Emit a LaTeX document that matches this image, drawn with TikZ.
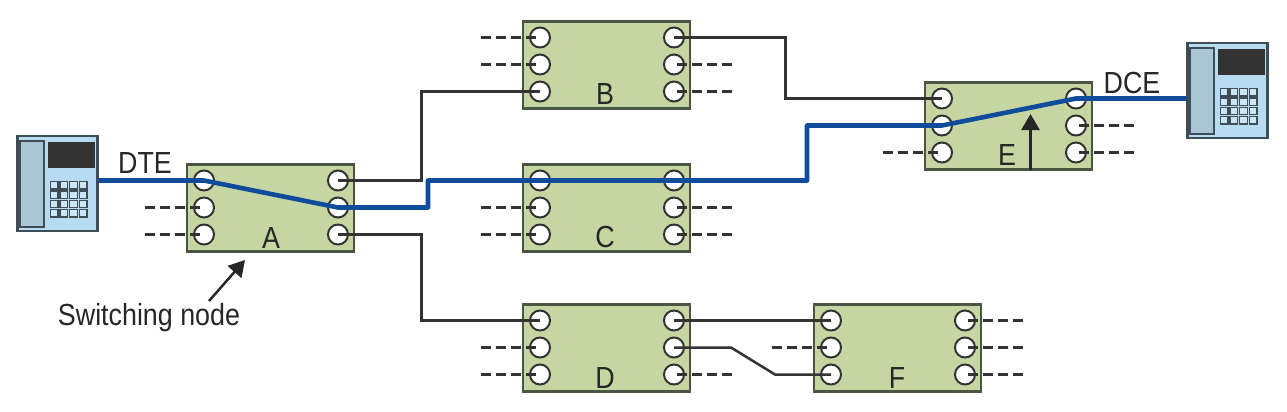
\documentclass[tikz,border=0pt]{standalone}
\usepackage{fontspec}
\usetikzlibrary{arrows.meta}
\newfontfamily\lab[FakeStretch=0.88]{Liberation Sans}
\definecolor{boxgreen}{HTML}{C6D6A2}
\definecolor{boxedge}{HTML}{4A5644}
\definecolor{linkblue}{HTML}{0F4C9C}
\definecolor{linkdark}{HTML}{333333}
\definecolor{phoneblue}{HTML}{B7DCF2}
\definecolor{phonegrey}{HTML}{A9C5D6}
\definecolor{phoneedge}{HTML}{3F4E56}
\definecolor{phonescreen}{HTML}{333333}
\tikzset{
  x=1pt,y=-1pt,
  switchbox/.style={draw=boxedge,line width=2.3pt,fill=boxgreen,minimum width=167pt,minimum height=87pt,inner sep=0pt},
  portdot/.style={circle,draw=linkdark,line width=2pt,fill=white,minimum size=20pt,inner sep=0pt},
  thinlink/.style={draw=linkdark,line width=2.5pt},
  bluelink/.style={draw=linkblue,line width=4.6pt,line join=round},
  stub/.style={draw=linkdark,line width=2.5pt,dash pattern=on 10pt off 5pt},
  biglabel/.style={inner sep=0pt,text=black!85,font=\lab\fontsize{30.5}{32}\selectfont},
  phonebody/.style={draw=phoneedge,line width=2.2pt,fill=phoneblue,minimum width=80pt,minimum height=95pt,inner sep=0pt},
  phonehandset/.style={draw=phoneedge,line width=1.4pt,fill=phonegrey},
  phonekey/.style={draw=phoneedge,line width=1.5pt,fill=phoneblue!70!white},
  pointer/.style={draw=black!85,line width=2.5pt,-{Triangle[length=16pt,width=18pt]}}
}
% #1 name, #2 box left, #3 box top (ports follow at fixed offsets)
\newcommand{\switchnode}[3]{%
  \node[switchbox] (#1) at (#2+83.5,#3+44) {};
  \foreach \row/\dy in {1/16.5,2/43.5,3/70.5}{
    \node[portdot] (#1-l\row) at (#2+17,#3+\dy) {};
    \node[portdot] (#1-r\row) at (#2+151,#3+\dy) {};
  }
}
% #1 name, #2 left, #3 top
\newcommand{\phoneset}[3]{%
  \node[phonebody] (#1) at (#2+40.5,#3+47.5) {};
  \draw[phonehandset] (#2+3,#3+5) rectangle (#2+27,#3+91);
  \fill[phonescreen] (#2+31,#3+6) rectangle (#2+78,#3+32);
  \foreach \i in {0,...,3}\foreach \j in {0,...,3}{
    \draw[phonekey] (#2+33.5+\i*9.6,#3+45.5+\j*9.4) rectangle ++(7.6,7.4);
  }
}
\begin{document}
\begin{tikzpicture}
\useasboundingbox (0,0) rectangle (1287,412);
\switchnode{A}{187}{164}
\switchnode{B}{523}{21}
\switchnode{C}{523}{164}
\switchnode{D}{523}{304}
\switchnode{E}{925}{82}
\switchnode{F}{814}{304}
\phoneset{phoneL}{17}{136}
\phoneset{phoneR}{1187}{43}
% bend points
\coordinate (ab1) at (421.5,0 |- A-r1.center);
\coordinate (ab2) at (421.5,0 |- B-l3.center);
\coordinate (ad1) at (421.5,0 |- A-r3.center);
\coordinate (ad2) at (421.5,0 |- D-l1.center);
\coordinate (be1) at (785.5,0 |- B-r1.center);
\coordinate (be2) at (785.5,0 |- E-l1.center);
\coordinate (df1) at (731,0 |- D-r2.center);
\coordinate (df2) at (775,0 |- F-l3.center);
\coordinate (ac1) at (428,0 |- A-r2.center);
\coordinate (ac2) at (428,0 |- C-l1.center);
\coordinate (ce1) at (807,0 |- C-r1.center);
\coordinate (ce2) at (807,0 |- E-l2.center);
% dashed stubs, each drawn from its free end to its port
\foreach \n/\x in {A/145,C/481,D/481}{
  \draw[stub] (\x,0 |- \n-l2.center) -- (\n-l2.center);
  \draw[stub] (\x,0 |- \n-l3.center) -- (\n-l3.center);
}
\draw[stub] (481,0 |- B-l1.center) -- (B-l1.center);
\draw[stub] (481,0 |- B-l2.center) -- (B-l2.center);
\draw[stub] (883,0 |- E-l3.center) -- (E-l3.center);
\draw[stub] (772,0 |- F-l2.center) -- (F-l2.center);
\draw[stub] (732,0 |- B-r2.center) -- (B-r2.center);
\draw[stub] (732,0 |- B-r3.center) -- (B-r3.center);
\draw[stub] (732,0 |- C-r2.center) -- (C-r2.center);
\draw[stub] (732,0 |- C-r3.center) -- (C-r3.center);
\draw[stub] (732,0 |- D-r3.center) -- (D-r3.center);
\draw[stub] (1134,0 |- E-r2.center) -- (E-r2.center);
\draw[stub] (1134,0 |- E-r3.center) -- (E-r3.center);
\foreach \r in {1,2,3}{\draw[stub] (1023,0 |- F-r\r.center) -- (F-r\r.center);}
% thin links
\draw[thinlink] (A-r1.center) -- (ab1) -- (ab2) -- (B-l3.center);
\draw[thinlink] (A-r3.center) -- (ad1) -- (ad2) -- (D-l1.center);
\draw[thinlink] (B-r1.center) -- (be1) -- (be2) -- (E-l1.center);
\draw[thinlink] (D-r1.center) -- (F-l1.center);
\draw[thinlink] (D-r2.center) -- (df1) -- (df2) -- (F-l3.center);
% highlighted circuit
\draw[bluelink] (phoneL.east |- A-l1.center) -- (A-l1.center) -- (A-r2.center) -- (ac1) -- (ac2)
  -- (C-l1.center) -- (C-r1.center) -- (ce1) -- (ce2) -- (E-l2.center) -- (E-r1.center)
  -- (phoneR.west |- E-r1.center);
% labels
\node[biglabel] (dte) at (145,163) {DTE};
\node[biglabel] (dce) at (1132,83) {DCE};
\node[biglabel] (la) at (271,238) {A};
\node[biglabel] (lb) at (605,94) {B};
\node[biglabel] (lc) at (605,237) {C};
\node[biglabel] (ld) at (605,378) {D};
\node[biglabel] (le) at (1007,155) {E};
\node[biglabel] (lf) at (897,378) {F};
\node[biglabel] (sw) at (149,318) {Switching node};
% pointers
\coordinate (swTip) at (245,260);
\coordinate (swTail) at (209,301);
\draw[pointer] (swTail) -- (swTip);
\coordinate (eTail) at (1030.5,170);
\coordinate (eTip) at (1030.5,114);
\draw[pointer] (eTail) -- (eTip);
\end{tikzpicture}
\end{document}
